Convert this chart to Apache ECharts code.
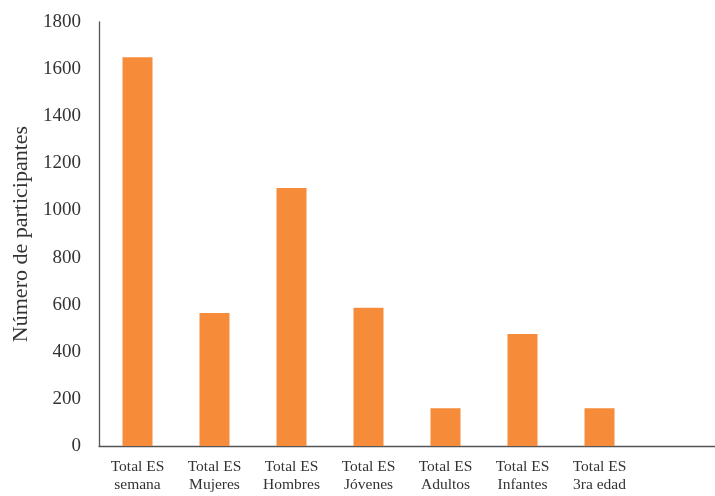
<!DOCTYPE html>
<html>
<head>
<meta charset="utf-8">
<script src="https://cdn.jsdelivr.net/npm/echarts@6/dist/echarts.min.js"></script>
<style>
  html, body { margin: 0; padding: 0; background: #fff; }
  #chart { width: 715px; height: 496px; }
</style>
</head>
<body>
<div id="chart"></div>
<script>
// Participantes por grupo
const categories = [
  'Total ES\nsemana', 'Total ES\nMujeres', 'Total ES\nHombres', 'Total ES\nJóvenes',
  'Total ES\nAdultos', 'Total ES\nInfantes', 'Total ES\n3ra edad', ''
];
const participantes = [1650, 565, 1095, 587, 160, 475, 160, '-'];
const yTicks = { min: 0, max: 1800, interval: 200 };

const serif = '"Liberation Serif", "DejaVu Serif", serif';

const chart = echarts.init(document.getElementById('chart'), null, { renderer: 'canvas' });
chart.setOption({
  animation: false,
  grid: { left: 99, right: -4, top: 22, bottom: 50 },
  xAxis: {
    type: 'category',
    data: categories,
    axisLine: { lineStyle: { color: '#555', width: 1.3 } },
    axisTick: { show: false },
    axisLabel: {
      interval: 0,
      color: '#333',
      fontFamily: serif,
      fontSize: 15.5,
      lineHeight: 18,
      margin: 12
    }
  },
  yAxis: {
    type: 'value',
    min: yTicks.min,
    max: yTicks.max,
    interval: yTicks.interval,
    name: 'Número de participantes',
    nameLocation: 'middle',
    nameGap: 66,
    nameTextStyle: { color: '#333', fontFamily: serif, fontSize: 22 },
    axisLine: { show: true, lineStyle: { color: '#555', width: 1.3 } },
    axisTick: { show: false },
    splitLine: { show: false },
    axisLabel: {
      color: '#333',
      fontFamily: serif,
      fontSize: 19,
      margin: 18,
      formatter: (v) => String(v)
    }
  },
  series: [{
    type: 'bar',
    data: participantes,
    barWidth: 30,
    itemStyle: { color: '#F68B3A' }
  }]
});
</script>
</body>
</html>
